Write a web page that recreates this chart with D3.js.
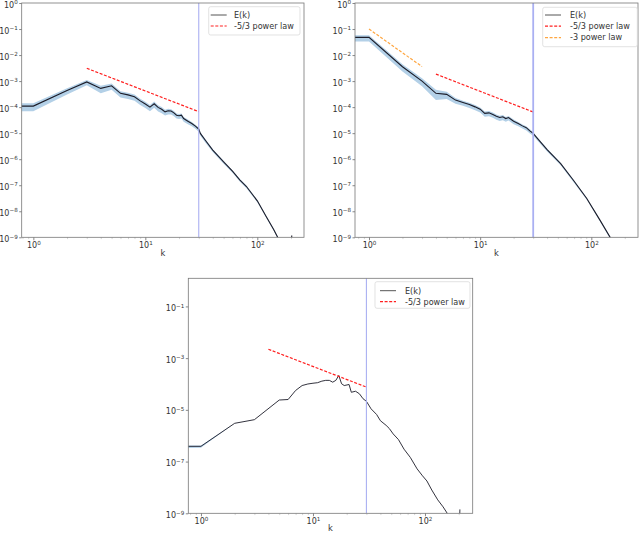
<!DOCTYPE html>
<html><head><meta charset="utf-8">
<script src="https://cdn.jsdelivr.net/npm/d3@7"></script>
<style>body{margin:0;background:#fff}svg{display:block}</style>
</head><body>
<svg id="c" width="640" height="533"></svg>
<script>
// ---- data (k, log10 E(k), band half-width in decades) ----
const k1 = [0.5,1,2,3,4,5,6,7,8,9,10,11,12,13,14,15,16,17,18,19,20,21,22,24,26,28,30,31,35,40,50,60,70,80,100,120,140,152,170,190,200,203];
const logE1 = [-3.96,-3.96,-3.36,-3.03,-3.28,-3.18,-3.47,-3.53,-3.6,-3.76,-3.88,-4.0,-3.87,-4.01,-4.08,-4.18,-4.14,-4.15,-4.22,-4.31,-4.33,-4.31,-4.44,-4.54,-4.63,-4.73,-4.84,-5.01,-5.32,-5.65,-6.1,-6.46,-6.8,-7.05,-7.6,-8.2,-8.7,-9.0,-9.6,-10.3,-10.8,-8.93];
const band1 = [0.15,0.15,0.12,0.1,0.14,0.12,0.12,0.12,0.12,0.12,0.12,0.12,0.12,0.12,0.12,0.11,0.11,0.1,0.1,0.1,0.1,0.1,0.09,0.09,0.08,0.08,0.08,0.07,0.07,0.06,0.06,0.05,0.05,0.05,0.04,0.04,0.04,0.04,0.03,0.03,0.03,0.03];

const k2 = [0.5,1,2,3,4,5,6,7,8,9,10,11,12,13,14,15,16,17,18,20,22,24,26,28,30,33,40,53,69,91,120,148,170];
const logE2 = [-1.32,-1.32,-2.45,-3.0,-3.47,-3.51,-3.73,-3.82,-3.9,-3.99,-4.08,-4.24,-4.22,-4.28,-4.35,-4.4,-4.37,-4.44,-4.4,-4.54,-4.63,-4.72,-4.79,-4.91,-5.01,-5.22,-5.63,-6.17,-6.81,-7.51,-8.35,-9.01,-9.7];
const band2 = [0.12,0.12,0.14,0.15,0.2,0.14,0.11,0.1,0.1,0.1,0.1,0.1,0.1,0.1,0.1,0.1,0.1,0.09,0.09,0.09,0.08,0.08,0.08,0.08,0.07,0.06,0.06,0.05,0.05,0.04,0.04,0.04,0.04];

const k3 = [0.5,1,2,3,5,6,7,8,9,10,11,12,13,14,15,16,17,18,19,21,22,24,26,28,30,33,37,40,45,48,52,58,65,74,85,95,104,115,130,145,158,180,200,205];
const logE3 = [-6.41,-6.41,-5.52,-5.38,-4.62,-4.6,-4.25,-4.06,-4.0,-3.97,-3.95,-3.89,-3.86,-3.86,-3.93,-3.86,-3.67,-3.99,-4.06,-4.02,-4.32,-4.28,-4.38,-4.57,-4.67,-4.96,-5.18,-5.42,-5.6,-5.72,-5.93,-6.15,-6.52,-6.84,-7.28,-7.55,-7.75,-8.1,-8.48,-8.75,-9.0,-9.6,-10.5,-8.85];
const band3 = [0.07,0.04,0,0,0,0,0,0,0,0,0,0,0,0,0,0,0,0,0,0,0,0,0,0,0,0,0,0,0,0,0,0,0,0,0,0,0,0,0,0,0,0,0,0];

// reference power-law segments (endpoints)
const pl53K1 = [3,30],  pl53E1 = [3.1e-3, 6.7e-5];
const pl53K2 = [4,30],  pl53E2 = [1.86e-3, 6.5e-5];
const pl3K2  = [1,3],   pl3E2  = [1.0e-1, 3.6e-3];
const pl53K3 = [4,30],  pl53E3 = [2.2e-3, 7.6e-5];
const kCut = 30;

const xMajor = [1,10,100];
const yMajorAll = [0,-1,-2,-3,-4,-5,-6,-7,-8,-9];
const yMajorOdd = [-1,-3,-5,-7,-9];
const legendLabels = ["E(k)","-5/3 power law","-3 power law"];

// ---- drawing ----
const svg = d3.select("#c");
const FONT = "DejaVu Sans, sans-serif";
const sup = s => s.replace("-", "\u2212");

const panels = [
  {L:21.7,R:304,T:3,B:237.3,xl:[-0.104,2.417],yl:[-9,0],k:k1,e:logE1,s:band1,yt:yMajorAll,lw:1.1,
   pl:[{k:pl53K1,E:pl53E1,c:"#ff2020"}],leg:{x:208.7,y:6.7,w:91.3,h:28.3,n:2,lx:210.7,tx:234,rows:[15,26]},kx:163,ky:256,vw:1.1},
  {L:355,R:638,T:3,B:237.3,xl:[-0.126,2.42],yl:[-9,0],k:k2,e:logE2,s:band2,yt:yMajorAll,lw:1.1,
   pl:[{k:pl53K2,E:pl53E2,c:"#ff2020"},{k:pl3K2,E:pl3E2,c:"#ffa640"}],leg:{x:542.7,y:7.3,w:94.6,h:39.4,n:3,lx:545,tx:570,rows:[15,26.2,37.6]},kx:496.5,ky:256,vw:1.8},
  {L:188.3,R:472.7,T:278.3,B:513.3,xl:[-0.113,2.426],yl:[-9,0.087],k:k3,e:logE3,s:band3,yt:yMajorOdd,lw:0.9,
   pl:[{k:pl53K3,E:pl53E3,c:"#ff2020"}],leg:{x:375,y:281.7,w:95,h:26.6,n:2,lx:380,tx:405,rows:[290.7,301.7]},kx:330.5,ky:531,vw:1.1}
];

panels.forEach((p,i)=>{
  const x = d3.scaleLog().domain([10**p.xl[0],10**p.xl[1]]).range([p.L,p.R]);
  const y = d3.scaleLog().domain([10**p.yl[0],10**p.yl[1]]).range([p.B,p.T]);
  const g = svg.append("g");
  const cid = "clip"+i;
  svg.append("clipPath").attr("id",cid).append("rect")
    .attr("x",p.L).attr("y",p.T).attr("width",p.R-p.L).attr("height",p.B-p.T);
  const plot = g.append("g").attr("clip-path",`url(#${cid})`);
  const pts = p.k.map((k,j)=>({k:k,e:p.e[j],s:p.s[j]}));

  plot.append("path").datum(pts)
    .attr("d", d3.area().x(d=>x(d.k)).y0(d=>y(10**(d.e-d.s*1.3))).y1(d=>y(10**(d.e+d.s*0.7))))
    .attr("fill","#b3d0e7");
  plot.append("path").datum(pts)
    .attr("d", d3.line().x(d=>x(d.k)).y(d=>y(10**d.e)))
    .attr("fill","none").attr("stroke","#1c1c28").attr("stroke-width",p.lw);

  p.pl.forEach(l=>{
    plot.append("path").datum(l.k.map((k,j)=>[k,l.E[j]]))
      .attr("d", d3.line().x(d=>x(d[0])).y(d=>y(d[1])))
      .attr("fill","none").attr("stroke",l.c).attr("stroke-width",1.2).attr("stroke-dasharray","3,1.6");
  });

  plot.append("line").attr("x1",x(kCut)).attr("x2",x(kCut)).attr("y1",p.T).attr("y2",p.B)
    .attr("stroke","#aab0f2").attr("stroke-width",p.vw);

  // minor x ticks
  const minors = [];
  [-1,0,1,2].forEach(d=>{for(let m=2;m<=9;m++){const v=m*10**d; if(v>10**p.xl[0]&&v<10**p.xl[1]) minors.push(v);}});
  const gm = g.append("g").attr("transform",`translate(0,${p.B})`)
    .call(d3.axisBottom(x).tickValues(minors).tickSize(1.8).tickFormat(""));
  gm.select(".domain").remove();
  gm.selectAll(".tick line").attr("stroke","#b8b8b8").attr("stroke-width",0.6);

  // major x ticks
  const gx = g.append("g").attr("transform",`translate(0,${p.B})`)
    .call(d3.axisBottom(x).tickValues(xMajor).tickSize(3).tickPadding(2.5));
  gx.select(".domain").remove();
  gx.selectAll(".tick line").attr("stroke","#555").attr("stroke-width",0.7);
  gx.selectAll(".tick text").each(function(d){
    const t=d3.select(this); t.text(null).attr("font-family",FONT).attr("font-size",8).attr("fill","#333");
    t.append("tspan").text("10");
    t.append("tspan").attr("dy",-3.3).attr("font-size",5.6).text(sup(String(Math.round(Math.log10(d)))));
  });

  // y ticks
  const gy = g.append("g").attr("transform",`translate(${p.L},0)`)
    .call(d3.axisLeft(y).tickValues(p.yt.map(e=>10**e)).tickSize(2.5).tickPadding(1.5));
  gy.select(".domain").remove();
  gy.selectAll(".tick line").attr("stroke","#555").attr("stroke-width",0.7);
  gy.selectAll(".tick text").each(function(d){
    const t=d3.select(this); t.text(null).attr("font-family",FONT).attr("font-size",8).attr("fill","#333").attr("dy","0.5em");
    t.append("tspan").text("10");
    t.append("tspan").attr("dy",-3.3).attr("font-size",5.6).text(sup(String(Math.round(Math.log10(d)))));
  });

  // frame
  g.append("rect").attr("x",p.L).attr("y",p.T).attr("width",p.R-p.L).attr("height",p.B-p.T)
    .attr("fill","none").attr("stroke","#777").attr("stroke-width",0.8);

  // x label
  g.append("text").attr("x",p.kx).attr("y",p.ky).attr("text-anchor","middle")
    .attr("font-family",FONT).attr("font-size",8.3).attr("fill","#333").text("k");

  // legend
  const lg = p.leg;
  g.append("rect").attr("x",lg.x).attr("y",lg.y).attr("width",lg.w).attr("height",lg.h).attr("rx",2)
    .attr("fill","#fff").attr("fill-opacity",0.85).attr("stroke","#d6d6d6").attr("stroke-width",0.7);
  const styles = [{c:"#555",d:null,w:1},{c:"#ff2020",d:"3,1.6",w:1.2},{c:"#ffa640",d:"3,1.6",w:1.2}];
  for(let j=0;j<lg.n;j++){
    const st=styles[j], yy=lg.rows[j];
    g.append("line").attr("x1",lg.lx).attr("x2",lg.lx+16).attr("y1",yy).attr("y2",yy)
      .attr("stroke",st.c).attr("stroke-width",st.w).attr("stroke-dasharray",st.d);
    g.append("text").attr("x",lg.tx).attr("y",yy).attr("dy","0.35em")
      .attr("font-family",FONT).attr("font-size",8.1).attr("fill","#333").text(legendLabels[j]);
  }
});
</script>
</body></html>
